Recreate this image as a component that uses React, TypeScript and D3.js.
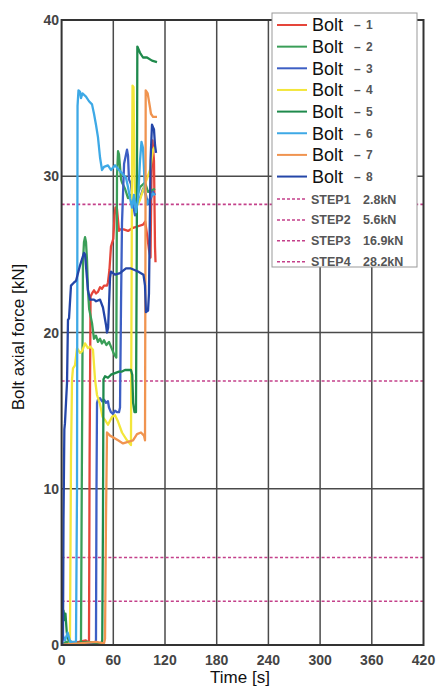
import React from 'react';
import * as d3 from 'd3';

// axis ticks
const timeTicks = [0, 60, 120, 180, 240, 300, 360, 420];
const forceTicks = [0, 10, 20, 30, 40];

// bolt series: [time s, axial force kN]
const bolt1: [number, number][] = [
  [0, 0], [10, 0.1], [20, 0.2], [28, 0.3], [31, 0.1], [31.8, 0.3], [32.5, 12], [33.6, 22.3], [35.3, 22.5],
  [37.6, 22.7], [39.9, 22.5], [42.2, 22.6], [44.6, 22.9], [46.9, 22.8], [49.2, 23.0], [52.7, 23.0],
  [53.8, 23.2], [55.5, 24.0], [57.3, 25.5], [60, 26.0], [61.5, 27.5], [62.5, 28.0], [64.3, 27.9],
  [66.6, 26.5], [67.8, 26.6], [72, 26.6], [77.1, 26.5], [82.9, 26.7], [88.7, 26.8], [94.5, 26.9],
  [97, 27.1], [99.1, 26.3], [101.4, 25.3], [103.2, 24.8], [104.3, 30], [105.5, 32.3], [107.2, 31.0],
  [108.4, 25.5], [109, 24.5],
];
const bolt2: [number, number][] = [
  [0, 0], [5, 0.2], [12, 0.1], [22.5, 0.1], [23.2, 8], [24.8, 24.5], [26, 25.8], [27.2, 26.1], [28.3, 25.8],
  [29.5, 24.6], [30.6, 22.7], [32, 21.5], [35.3, 20.6], [37.6, 19.6], [39.9, 19.8], [42.2, 19.4],
  [44.6, 19.6], [46.9, 19.3], [49.2, 19.5], [52, 19.2], [55, 19.4], [58, 19.0], [61, 18.6], [63.5, 18.4],
  [64.3, 30], [65.5, 31.6], [66.6, 31.4], [67.8, 30.6], [69, 29.8], [70.1, 29.6], [73.6, 29.2],
  [77.1, 28.6], [80.5, 28.8], [84, 28.3], [87.5, 28.7], [91, 29.3], [96.8, 29.6], [100.3, 29.0],
  [104.9, 29.1], [108.4, 29.2],
];
const bolt3: [number, number][] = [
  [0, 0], [20, 0.1], [38.8, 0.1], [39.9, 0.3], [40.5, 10], [41.1, 15.5], [42.2, 15.7], [44.6, 15.8],
  [46.9, 15.6], [49.2, 15.7], [51.5, 15.5], [53.8, 15.6], [55, 15.2], [57.3, 14.9], [59.6, 14.8],
  [62, 15.0], [64.3, 14.9], [66.6, 14.9], [67.8, 15.2], [69, 22], [70.1, 27], [72.5, 30.8], [75.9, 31.7],
  [77.1, 31.3], [78.2, 29.8], [80.5, 29.5], [82.9, 28.2], [85.2, 27.5], [87.5, 28.4], [91, 28.6],
  [94.5, 29.2], [97.9, 28.8], [100.3, 28.2], [103.7, 28.6], [106.1, 29.0], [108.4, 28.8],
];
const bolt4: [number, number][] = [
  [0, 0], [9, 0], [9.7, 0.3], [10.9, 12], [12.1, 17.0], [13.2, 17.7], [15.5, 17.9], [17.9, 19.0],
  [21.4, 18.7], [23.7, 18.8], [27.2, 19.3], [30.6, 19.0], [33, 19.1], [36.4, 18.9], [38.8, 17.0],
  [41.1, 16.0], [44.6, 15.4], [47.5, 14.6], [50.4, 14.4], [53.8, 14.1], [58.5, 14.6], [62, 14.7],
  [65.5, 14.3], [70.1, 13.6], [75.9, 13.1], [80.5, 12.8], [81.7, 30], [82.3, 35.8], [83.5, 35.7],
  [84.6, 30], [85.2, 29.0], [88.7, 28.2], [91, 28.5], [96.8, 29.5], [102.6, 30.4], [106.1, 31.7],
  [108.4, 31.9],
];
const bolt5: [number, number][] = [
  [0, 0], [1, 1.5], [2.2, 2.2], [3.5, 1.6], [4.5, 2.0], [6, 0.8], [8, 0.3], [15, 0.1], [30, 0.2],
  [46, 0.1], [47.2, 0.3], [48, 8], [48.6, 17.0], [50.4, 17.2], [53.8, 17.1], [57.3, 17.3], [62, 17.4],
  [66.6, 17.5], [70.1, 17.5], [73.6, 17.6], [80.5, 17.6], [82, 17.3], [83, 15.5], [84.6, 14.9],
  [86.3, 14.9], [87.2, 25], [87.9, 38.3], [91, 37.9], [94.5, 37.6], [99.1, 37.6], [104.9, 37.4],
  [110.7, 37.3],
];
const bolt6: [number, number][] = [
  [0, 0], [1.5, 0.6], [4, 0.3], [7, 0.8], [10, 0.2], [16.7, 0.2], [17.9, 10], [18.5, 34.5], [19.6, 35.5],
  [21.4, 35.4], [22.5, 35.0], [24.2, 35.3], [28.3, 35.1], [31.8, 34.8], [35.3, 34.6], [37.6, 34.0],
  [39.9, 33.3], [42.2, 32.5], [44.6, 31.2], [46.9, 30.4], [49.2, 30.6], [53.8, 30.7], [57.3, 30.4],
  [62, 30.7], [66.6, 30.4], [70.1, 30.2], [74.7, 29.9], [77.1, 29.3], [79.4, 28.6], [81.7, 28.0],
  [84, 28.8], [86.3, 27.7], [88.7, 28.5], [91, 31], [92.7, 32.2], [94.5, 31.8], [96.8, 29],
  [99.1, 28.2], [102.6, 28.6], [105.5, 28.9], [108.4, 28.8],
];
const bolt7: [number, number][] = [
  [0, 0], [20, 0.1], [40, 0.2], [49.2, 0.1], [50.4, 0.4], [51.5, 8], [52.7, 13.6], [56.2, 13.4],
  [59.6, 13.3], [65.5, 13.1], [71.3, 12.9], [77, 13.0], [82.9, 13.1], [87.5, 13.5], [92.1, 13.6],
  [95.6, 13.4], [96.8, 13.1], [97.3, 25], [97.6, 35.5], [99.9, 35.3], [102.6, 34.4], [103.7, 34.0],
  [106.1, 33.8], [110.7, 33.8],
];
const bolt8: [number, number][] = [
  [0, 0], [0.5, 0], [1.6, 0.5], [2.2, 8], [3.2, 13.8], [3.9, 14.2], [5.1, 15.5], [6.3, 16.8], [7.4, 20.8],
  [8.6, 20.9], [10.9, 23.0], [14.4, 23.2], [16.7, 23.3], [21.4, 24.3], [26, 25.1], [27.2, 25.0],
  [30.6, 22.7], [33, 22.1], [37.6, 22.1], [40, 22.0], [44.6, 22.1], [48, 21.6], [51.5, 20.5],
  [52.7, 20.0], [54, 20.3], [56.2, 23.5], [57.3, 23.9], [62, 23.7], [67.8, 23.8], [74.7, 24.1],
  [80.5, 24.1], [88.7, 23.9], [95, 23.7], [96.8, 23.0], [97.9, 21.3], [100.3, 21.4], [101.4, 22.5],
  [103.2, 31], [104.9, 33.3], [107.2, 33.0], [108.4, 32.0], [109.6, 31.5],
];

const boltSeries = [bolt1, bolt2, bolt3, bolt4, bolt5, bolt6, bolt7, bolt8];
const boltNumbers = ['1', '2', '3', '4', '5', '6', '7', '8'];
const boltColors = ['#e5453a', '#3a9e58', '#3d5fc4', '#f3e63a', '#1f8a4c', '#3ea9e6', '#f09450', '#2446a8'];

// tightening steps (kN)
const stepLabels = ['STEP1', 'STEP2', 'STEP3', 'STEP4'];
const stepValues = [2.8, 5.6, 16.9, 28.2];
const stepText = ['2.8kN', '5.6kN', '16.9kN', '28.2kN'];

const W = 436;
const H = 686;
const left = 61.6, right = 423.5, top = 20, bottom = 645;
const stepColor = '#c4408a';
const sans = '"Liberation Sans", Arial, sans-serif';

export default function App() {
  const x = d3.scaleLinear().domain([0, 420]).range([left, right]);
  const y = d3.scaleLinear().domain([0, 40]).range([bottom, top]);
  const line = d3.line<[number, number]>().x(d => x(d[0])).y(d => y(d[1]));

  const legX = 272, legY = 13, legW = 145, legH = 254;
  const rowY = (i: number) => 25 + i * 21.65;
  const stepRowY = (i: number) => 199 + i * 20.9;

  return (
    <svg width={W} height={H} style={{ position: 'absolute', left: 0, top: 0, background: '#fff' }}>
      <defs>
        <clipPath id="plot">
          <rect x={left} y={top - 2} width={right - left} height={bottom - top + 2} />
        </clipPath>
      </defs>
      <rect width={W} height={H} fill="#fff" />

      {/* grid */}
      {timeTicks.slice(1, -1).map(t => (
        <line key={'gx' + t} x1={x(t)} x2={x(t)} y1={top} y2={bottom} stroke="#4a4a4a" strokeWidth={1.5} />
      ))}
      {forceTicks.slice(1, -1).map(v => (
        <line key={'gy' + v} x1={left} x2={right} y1={y(v)} y2={y(v)} stroke="#4a4a4a" strokeWidth={1.5} />
      ))}

      {/* step lines */}
      {stepValues.map(v => (
        <line key={'s' + v} x1={left} x2={right} y1={y(v)} y2={y(v)} stroke={stepColor}
          strokeWidth={1.6} strokeDasharray="3,2.2" />
      ))}

      {/* bolts */}
      <g clipPath="url(#plot)" fill="none" strokeWidth={2.3} strokeLinejoin="round">
        {boltSeries.map((s, i) => (
          <path key={'b' + i} d={line(s) || ''} stroke={boltColors[i]} />
        ))}
      </g>

      {/* frame */}
      <rect x={left} y={top} width={right - left} height={bottom - top} fill="none" stroke="#333" strokeWidth={2} />

      {/* tick labels */}
      {forceTicks.map(v => (
        <text key={'ty' + v} x={59} y={y(v)} dy="0.36em" textAnchor="end" fontFamily={sans}
          fontWeight="bold" fontSize={14} fill="#444">{v}</text>
      ))}
      {timeTicks.map(t => (
        <text key={'tx' + t} x={x(t)} y={665} textAnchor="middle" fontFamily={sans}
          fontWeight="bold" fontSize={14} fill="#444">{t}</text>
      ))}

      {/* axis titles */}
      <text x={240} y={683} textAnchor="middle" fontFamily={sans} fontSize={17} fill="#111">Time [s]</text>
      <text transform={`translate(24, ${337}) rotate(-90)`} textAnchor="middle" fontFamily={sans}
        fontSize={17} fill="#111">Bolt axial force [kN]</text>

      {/* legend */}
      <rect x={legX} y={legY} width={legW} height={legH} fill="#fff" stroke="#999" strokeWidth={1} />
      {boltNumbers.map((n, i) => (
        <g key={'l' + n}>
          <line x1={277} x2={307} y1={rowY(i)} y2={rowY(i)} stroke={boltColors[i]} strokeWidth={2} />
          <text x={312} y={rowY(i)} dy="0.36em" fontFamily={sans} fontSize={18} fill="#111">Bolt</text>
          <text x={354} y={rowY(i)} dy="0.36em" fontFamily={sans} fontWeight="bold" fontSize={12} fill="#555">–</text>
          <text x={366} y={rowY(i)} dy="0.36em" fontFamily={sans} fontWeight="bold" fontSize={12} fill="#555">{n}</text>
        </g>
      ))}
      {stepLabels.map((s, i) => (
        <g key={'ls' + s}>
          <line x1={277} x2={307} y1={stepRowY(i)} y2={stepRowY(i)} stroke={stepColor} strokeWidth={1.5}
            strokeDasharray="3,2" />
          <text x={311} y={stepRowY(i)} dy="0.36em" fontFamily={sans} fontWeight="bold" fontSize={12.5}
            fill="#555">{s}</text>
          <text x={363} y={stepRowY(i)} dy="0.36em" fontFamily={sans} fontWeight="bold" fontSize={12.5}
            fill="#555">{stepText[i]}</text>
        </g>
      ))}
    </svg>
  );
}
